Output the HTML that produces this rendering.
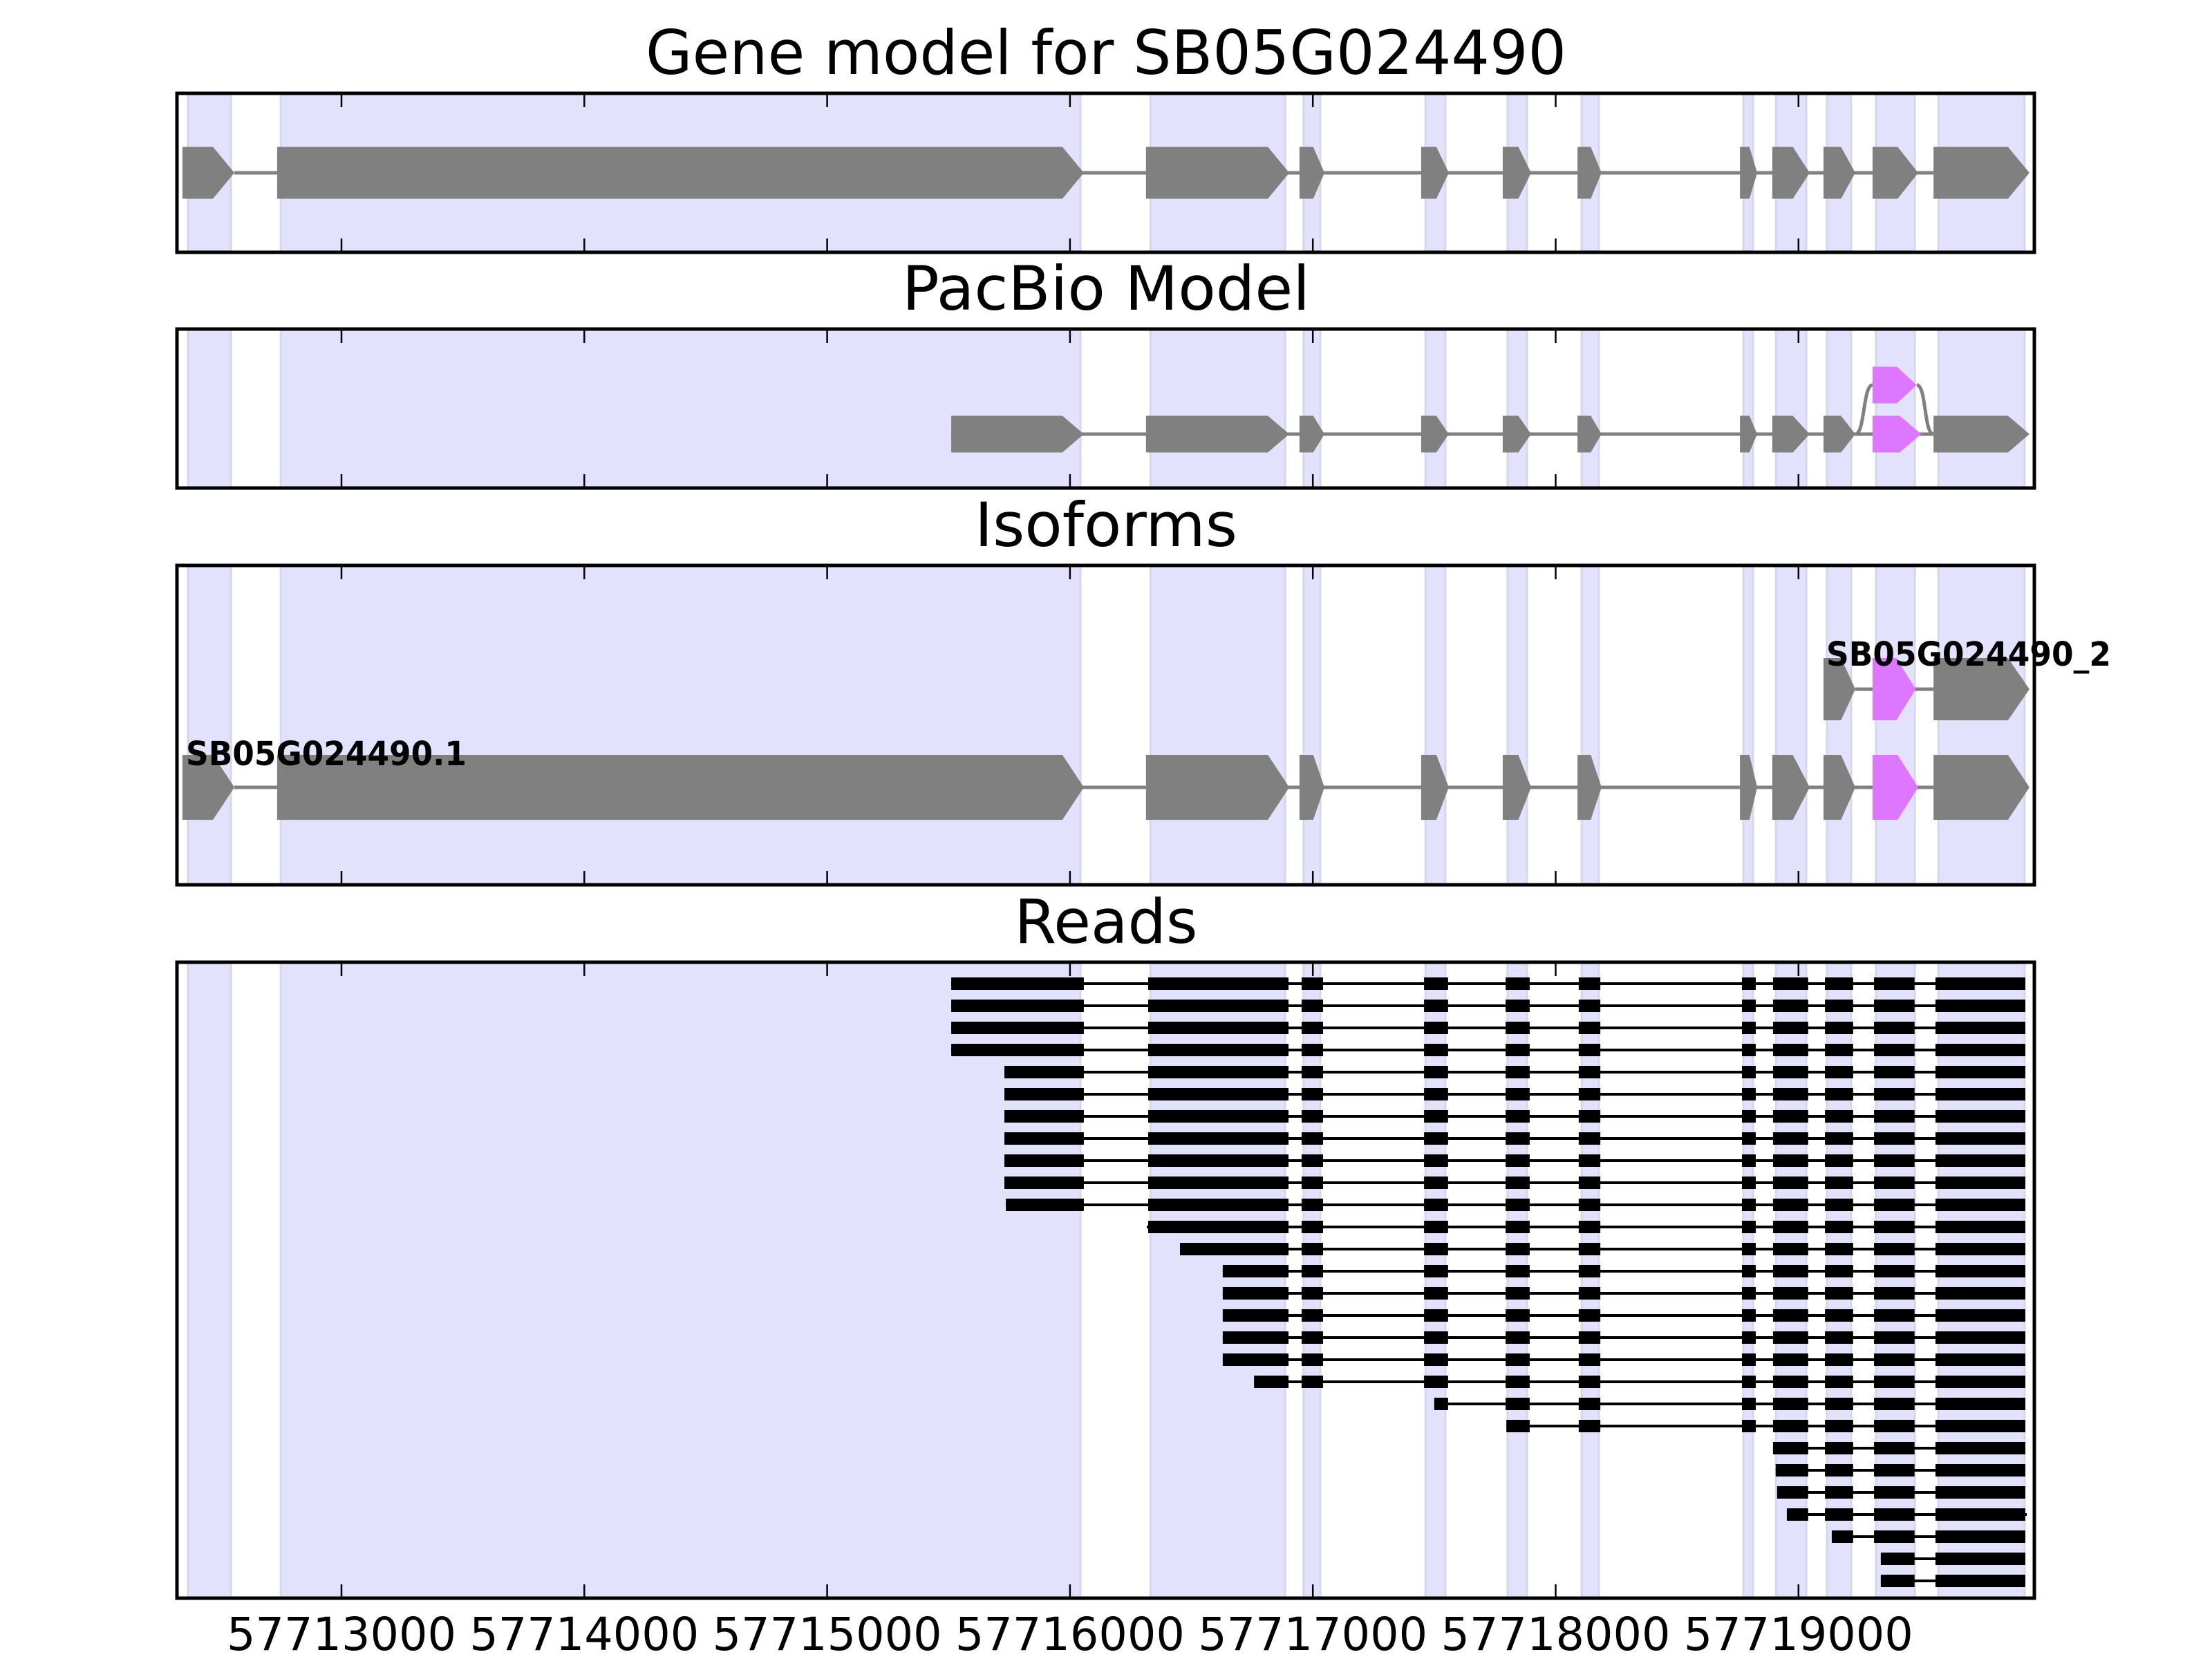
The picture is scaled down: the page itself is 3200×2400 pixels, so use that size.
<!DOCTYPE html>
<html><head><meta charset="utf-8"><style>
html,body{margin:0;padding:0;background:#fff}
svg{display:block}
text{font-family:"DejaVu Sans","Liberation Sans",sans-serif}
</style></head><body>
<svg id="chart" xmlns="http://www.w3.org/2000/svg" width="3200" height="2400" viewBox="0 0 3200 2400"></svg>
<script>
const xTicks = [57713000,57714000,57715000,57716000,57717000,57718000,57719000];
const tickLabels = ["57713000","57714000","57715000","57716000","57717000","57718000","57719000"];
const shadeStarts = [57712368,57712750,57716331,57716962,57717464,57717802,57718107,57718773,57718907,57719117,57719319,57719576];
const shadeEnds   = [57712545,57716043,57716886,57717031,57717546,57717882,57718178,57718813,57719032,57719217,57719479,57719931];
const exonStarts = [57712345,57712735,57716313,57716945,57717446,57717782,57718090,57718759,57718892,57719103,57719305,57719556];
const exonEnds   = [57712559,57716057,57716903,57717048,57717560,57717899,57718189,57718830,57719046,57719234,57719493,57719951];
const pinkExonIndex = 10;
const pacbioStart = 57715511;
const pacbioAltPinkEnd = 57719487;
const pacbioPinkEnd = 57719505;
const iso2Exons = [9,10,11];
const readBlockStarts = [57712345,57716322,57716954,57717458,57717794,57718095,57718767,57718895,57719109,57719311,57719564];
const readBlockEnds   = [57716057,57716900,57717042,57717557,57717893,57718184,57718824,57719040,57719225,57719478,57719934];
const readStarts = [57715511,57715511,57715511,57715511,57715730,57715730,57715730,57715730,57715730,57715730,57715736,57716316,57716453,57716629,57716629,57716629,57716629,57716629,57716758,57717500,57717797,57718895,57718906,57718912,57718952,57719137,57719339,57719339];
const readEnds = [57719934,57719934,57719934,57719934,57719934,57719934,57719934,57719934,57719934,57719934,57719934,57719934,57719934,57719934,57719934,57719934,57719934,57719934,57719934,57719934,57719934,57719934,57719934,57719934,57719940,57719934,57719934,57719934];

const svg = document.getElementById('chart');
const NS = 'http://www.w3.org/2000/svg';
const X0 = 256, X1 = 2943;
function xs(v){ return 494 + (v - 57713000) * 0.35130; }
function mk(tag, attrs){ const e = document.createElementNS(NS, tag); for (const k in attrs) e.setAttribute(k, attrs[k]); svg.appendChild(e); return e; }
const GRAY = '#808080', PINK = '#dd77ff';

const panels = [
  {key:'gene-model', top:135, bottom:365, title:'Gene model for SB05G024490', titleLen:1332},
  {key:'pacbio', top:476, bottom:706, title:'PacBio Model', titleLen:590},
  {key:'isoforms', top:818, bottom:1280, title:'Isoforms', titleLen:380},
  {key:'reads', top:1392, bottom:2312, title:'Reads', titleLen:265}
];

function arrowExon(s, e, cy, h, color, name){
  const x0 = xs(s), x1 = xs(e), w = x1 - x0;
  const a = Math.min(31, 0.45 * w);
  const p = mk('polygon', {points:`${x0},${cy-h/2} ${x1-a},${cy-h/2} ${x1},${cy} ${x1-a},${cy+h/2} ${x0},${cy+h/2}`, fill:color});
  
  
}
function intron(s, e, cy, color, w, name){
  const l = mk('line', {x1:xs(s), x2:xs(e), y1:cy, y2:cy, stroke:color, 'stroke-width':w});
  
  
}

panels.forEach(p => {
  // shading
  for (let i = 0; i < shadeStarts.length; i++) {
    const r = mk('rect', {x:xs(shadeStarts[i]), y:p.top, width:xs(shadeEnds[i]) - xs(shadeStarts[i]), height:p.bottom - p.top, fill:'#e2e2fc', stroke:'#d6d6ec', 'stroke-width':3});
    
    
  }
  const t = mk('text', {x:1600, y:p.top - 28, 'text-anchor':'middle', 'font-size':88, textLength:p.titleLen, lengthAdjust:'spacingAndGlyphs'});
  t.textContent = p.title;
  
  
});

// Gene model panel
{
  const cy = 250, h = 75;
  intron(exonEnds[0], exonStarts[exonStarts.length-1], cy, GRAY, 5, 'gene-intron-line');
  for (let i = 0; i < exonStarts.length; i++) arrowExon(exonStarts[i], exonEnds[i], cy, h, GRAY, 'gene-exon');
}
// PacBio panel
{
  const cy = 628, cyUp = 557, h = 53;
  intron(pacbioStart, exonStarts[11], cy, GRAY, 5, 'pacbio-intron-line');
  const xa = xs(exonEnds[9]), xb = xs(exonStarts[10]), xc = xs(pacbioAltPinkEnd), xd = xs(exonStarts[11]);
  const c = mk('path', {d:`M${xa},${cy} C${xa+14},${cy} ${xb-14},${cyUp} ${xb},${cyUp} M${xc},${cyUp} C${xc+14},${cyUp} ${xd-14},${cy} ${xd},${cy}`, fill:'none', stroke:GRAY, 'stroke-width':5});
  
  
  for (let i = 1; i < exonStarts.length; i++) {
    const s = i === 1 ? pacbioStart : exonStarts[i];
    const e = i === pinkExonIndex ? pacbioPinkEnd : exonEnds[i];
    arrowExon(s, e, cy, h, i === pinkExonIndex ? PINK : GRAY, 'pacbio-exon');
  }
  arrowExon(exonStarts[pinkExonIndex], pacbioAltPinkEnd, cyUp, h, PINK, 'pacbio-alt-exon');
}
// Isoforms panel
{
  const cy1 = 1139, cy2 = 997, h = 94;
  intron(exonEnds[0], exonStarts[11], cy1, GRAY, 5, 'isoform1-intron-line');
  for (let i = 0; i < exonStarts.length; i++) arrowExon(exonStarts[i], exonEnds[i], cy1, h, i === pinkExonIndex ? PINK : GRAY, 'isoform1-exon');
  intron(exonEnds[iso2Exons[0]], exonStarts[iso2Exons[iso2Exons.length-1]], cy2, GRAY, 5, 'isoform2-intron-line');
  iso2Exons.forEach(i => arrowExon(exonStarts[i], exonEnds[i] - (i === pinkExonIndex ? 10 : 0), cy2, 90, i === pinkExonIndex ? PINK : GRAY, 'isoform2-exon'));
  const l1 = mk('text', {x:269, y:1107, 'font-size':48, 'font-weight':'bold', textLength:406, lengthAdjust:'spacingAndGlyphs'});
  l1.textContent = 'SB05G024490.1';
  
  
  const l2 = mk('text', {x:2642, y:963, 'font-size':48, 'font-weight':'bold', textLength:412, lengthAdjust:'spacingAndGlyphs'});
  l2.textContent = 'SB05G024490_2';
  
  
}
// Reads panel
{
  const y0 = 1423, dy = 32, h = 18;
  for (let r = 0; r < readStarts.length; r++) {
    const cy = y0 + r * dy, s = readStarts[r], e = readEnds[r];
    intron(s, e, cy, '#000', 4, 'read-line');
    for (let b = 0; b < readBlockStarts.length; b++) {
      const bs = Math.max(s, readBlockStarts[b]), be = Math.min(e, readBlockEnds[b]);
      if (be <= bs) continue;
      const rc = mk('rect', {x:xs(bs), y:cy - h/2, width:xs(be) - xs(bs), height:h, fill:'#000'});
      
      
    }
  }
}
// Frames, ticks
panels.forEach((p, pi) => {
  xTicks.forEach(v => {
    const x = xs(v);
    const a = mk('line', {x1:x, x2:x, y1:p.top, y2:p.top + 20, stroke:'#000', 'stroke-width':2.5});
    
    
    const b = mk('line', {x1:x, x2:x, y1:p.bottom, y2:p.bottom - 20, stroke:'#000', 'stroke-width':2.5});
    
    
  });
  const f = mk('rect', {x:X0, y:p.top, width:X1 - X0, height:p.bottom - p.top, fill:'none', stroke:'#000', 'stroke-width':5});
  
  
});
xTicks.forEach((v, i) => {
  const t = mk('text', {x:xs(v), y:2387, 'text-anchor':'middle', 'font-size':66, textLength:332, lengthAdjust:'spacingAndGlyphs'});
  t.textContent = tickLabels[i];
  
  
});
</script>
</body></html>
